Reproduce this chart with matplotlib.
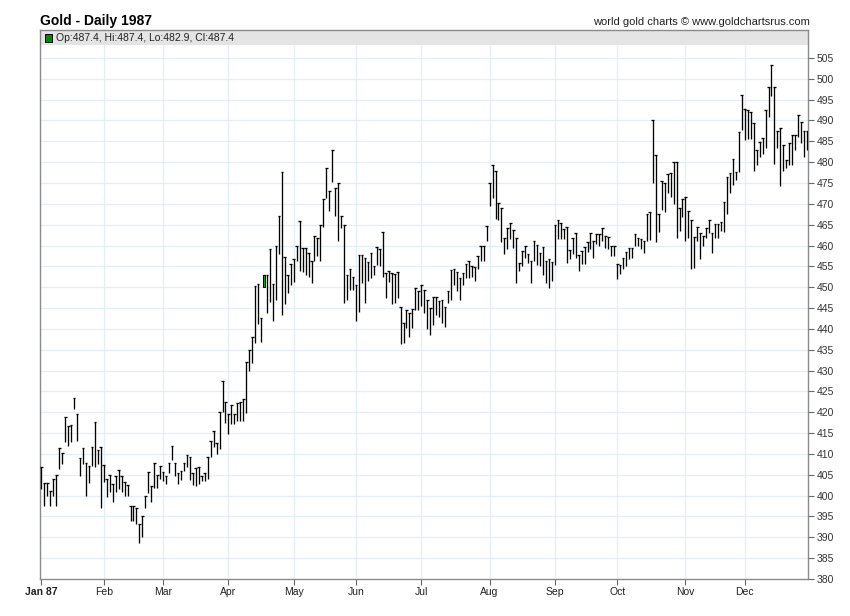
import numpy as np
import matplotlib.pyplot as plt

# daily (low, high), one list per month
jan = [(401.6, 406.8), (397.6, 403.0), (399.8, 403.0), (397.6, 401.2), (399.8, 404.0), (397.6, 405.0),
       (406.3, 411.4), (407.6, 410.2), (412.8, 418.8), (412.0, 416.6), (412.8, 417.0), (420.7, 423.4),
       (413.0, 419.6), (404.6, 409.0), (407.6, 411.4), (399.8, 407.8), (403.0, 407.2), (407.1, 411.6),
       (406.8, 417.6), (407.6, 411.0), (397.0, 411.6)]
feb = [(403.2, 407.4), (399.6, 404.0), (400.8, 405.0), (398.5, 402.8), (400.8, 404.6), (401.6, 406.2),
       (400.8, 404.6), (400.0, 403.2), (399.8, 402.6), (393.8, 397.4), (394.0, 397.6), (393.2, 397.0),
       (388.6, 393.3), (390.0, 395.2), (397.0, 399.8), (400.6, 405.6), (398.4, 402.4), (401.8, 407.8),
       (401.8, 405.0), (404.0, 407.1)]
mar = [(403.6, 405.6), (402.8, 404.6), (405.4, 407.8), (408.6, 411.8), (404.6, 407.8), (402.8, 405.4),
       (403.8, 405.8), (405.8, 407.8), (406.8, 409.8), (403.8, 409.2), (402.6, 405.4), (402.3, 406.6),
       (402.8, 406.8), (403.4, 404.8), (403.6, 405.4), (404.0, 409.2), (409.2, 413.0), (411.6, 415.4),
       (410.0, 412.6), (411.2, 420.0), (420.0, 427.6), (417.4, 422.4)]
apr = [(414.8, 419.7), (417.2, 421.7), (417.2, 419.6), (418.0, 422.2), (418.0, 422.4), (417.8, 423.2),
       (419.8, 432.0), (429.8, 435.0), (431.7, 438.1), (436.7, 450.4), (441.1, 450.8), (436.8, 442.6),
       (450.1, 453.0), (443.8, 452.9), (446.5, 459.2), (442.0, 450.7), (446.9, 459.8), (458.0, 467.0),
       (443.4, 477.7), (445.9, 457.2), (448.5, 452.9), (450.5, 455.6)]
may = [(451.3, 456.8), (456.4, 460.0), (453.8, 465.8), (453.7, 459.4), (453.0, 459.4), (452.5, 458.2),
       (451.0, 456.3), (456.2, 462.2), (457.5, 461.7), (456.4, 465.0), (464.4, 471.1), (471.3, 478.7),
       (468.2, 473.1), (475.2, 482.9), (467.0, 473.9), (461.0, 474.9), (464.1, 467.0), (446.1, 465.0),
       (446.9, 453.0), (449.3, 454.4), (449.3, 452.5)]
jun = [(441.8, 450.6), (444.1, 457.7), (451.0, 457.7), (446.3, 457.1), (451.4, 456.0), (452.2, 458.2),
       (453.0, 455.1), (455.4, 459.6), (455.2, 459.2), (452.5, 463.2), (447.5, 453.4), (451.3, 453.8),
       (446.0, 453.3), (446.1, 453.1), (447.3, 453.7), (436.4, 445.3), (436.6, 441.4), (440.2, 444.6),
       (438.0, 443.8), (440.2, 444.8), (444.6, 449.8), (444.6, 449.0)]
jul = [(445.6, 450.6), (443.9, 449.3), (440.0, 446.9), (438.5, 444.9), (441.0, 447.7), (443.3, 447.7),
       (442.9, 446.7), (441.5, 446.9), (440.5, 445.3), (446.1, 449.0), (446.9, 454.2), (450.6, 454.3),
       (449.0, 453.6), (446.9, 452.2), (450.5, 453.4), (452.1, 455.5), (452.2, 456.2), (452.5, 455.0),
       (451.4, 454.8), (454.4, 457.6), (456.2, 460.0), (456.2, 460.0), (461.2, 464.8)]
aug = [(469.5, 474.9), (471.5, 479.2), (466.3, 477.9), (466.2, 470.3), (460.9, 468.9), (457.9, 461.7),
       (459.2, 464.1), (461.6, 465.3), (459.4, 463.7), (451.1, 461.8), (453.8, 455.9), (455.0, 458.6),
       (457.0, 459.8), (455.9, 458.0), (451.0, 456.4), (456.2, 461.0), (455.4, 460.2), (455.1, 458.3),
       (453.0, 459.6), (451.1, 456.4), (449.8, 456.7), (451.4, 456.0)]
sep = [(455.4, 465.0), (461.6, 466.1), (461.6, 465.3), (461.6, 464.0), (455.9, 464.4), (456.7, 459.0),
       (458.0, 461.7), (457.0, 462.9), (453.8, 457.8), (455.6, 458.6), (455.6, 459.6), (458.4, 460.8),
       (459.2, 462.9), (457.0, 461.2), (460.4, 462.8), (459.9, 462.8), (461.1, 464.2), (459.5, 462.3),
       (459.1, 462.1), (457.5, 459.9), (457.5, 459.9)]
oct = [(451.9, 455.6), (453.1, 455.3), (454.3, 457.1), (455.2, 458.5), (456.7, 459.5), (457.1, 459.3),
       (459.9, 462.7), (460.0, 461.9), (459.1, 461.5), (458.1, 461.2), (461.1, 467.5), (461.3, 468.1),
       (475.0, 490.0), (460.8, 481.6), (463.2, 467.5), (468.4, 475.4), (468.0, 474.9), (472.6, 477.2),
       (471.6, 477.4), (469.9, 480.0), (461.9, 480.0), (463.5, 469.1), (466.9, 471.1)]
nov = [(461.1, 471.7), (461.9, 468.3), (454.4, 466.1), (454.7, 462.1), (461.1, 464.4), (456.7, 463.0),
       (459.9, 462.3), (461.9, 464.2), (463.1, 466.1), (458.3, 462.9), (461.9, 465.1), (461.9, 465.1),
       (463.5, 465.6), (463.2, 470.5), (467.5, 476.4), (472.5, 477.4), (474.4, 480.8), (475.7, 477.6),
       (477.6, 487.2), (487.8, 496.2)]
dec = [(485.4, 492.8), (485.6, 492.5), (485.6, 492.1), (477.8, 489.4), (479.4, 482.8), (481.3, 484.8),
       (482.0, 485.8), (483.3, 492.6), (490.8, 498.0), (495.8, 503.2), (479.6, 498.0), (483.4, 487.4),
       (474.2, 488.1), (477.8, 484.2), (478.6, 480.6), (479.4, 484.5), (479.4, 486.5), (483.0, 486.5),
       (486.1, 491.3), (484.5, 489.7), (481.3, 487.4), (483.0, 487.4)]

months = [jan, feb, mar, apr, may, jun, jul, aug, sep, oct, nov, dec]
month_labels = ['Jan 87', 'Feb', 'Mar', 'Apr', 'May', 'Jun', 'Jul', 'Aug', 'Sep', 'Oct', 'Nov', 'Dec']
# the one candle drawn in green (April), open/close
green_day = 12
green_open, green_close = 450.1, 453.0
legend_text = 'Op:487.4, Hi:487.4, Lo:482.9, Cl:487.4'

lows = np.array([d[0] for m in months for d in m])
highs = np.array([d[1] for m in months for d in m])
x = np.arange(len(lows))
starts = np.cumsum([0] + [len(m) for m in months[:-1]])

plt.rcParams['font.family'] = ['Liberation Sans', 'DejaVu Sans']
fig = plt.figure(figsize=(8.5, 6.16), dpi=100)
ax = fig.add_axes([40 / 850, 1 - 579 / 616, 768 / 850, 549 / 616])

ymin, ymax = 380, 511.7
ax.set_ylim(ymin, ymax)
ax.set_xlim(-0.5, len(x) - 0.7)

# grid
for yv in range(385, 510, 5):
    ax.axhline(yv, color='#e3eef9', lw=0.9, zorder=0)
for s in starts[1:]:
    ax.axvline(s, color='#e3eef9', lw=0.9, zorder=0)

# grey header band
ax.axhspan(508.1, ymax, color='#e4e4e4', zorder=1, lw=0)

# bars
ax.vlines(x, lows, highs, color='black', lw=0.95, zorder=3)
ax.hlines(highs, x - 0.45, x + 0.45, color='black', lw=0.95, zorder=3)
g = starts[3] + green_day
ax.bar(x[g], green_close - green_open, bottom=green_open, width=0.75,
       color='#1a9a1a', edgecolor='black', lw=0.7, zorder=4)

ax.yaxis.tick_right()
ax.set_yticks(range(380, 510, 5))
ax.tick_params(axis='y', labelsize=7.5, length=4, color='#666666', pad=2, labelcolor='#333333')
ax.set_xticks(starts)
ax.set_xticklabels(month_labels)
ax.tick_params(axis='x', labelsize=7.5, length=4, color='#666666', pad=2, labelcolor='#222222')
ax.get_xticklabels()[0].set_fontweight('bold')
for sp in ax.spines.values():
    sp.set_color('#8a8a8a')
    sp.set_linewidth(1.0)

fig.text(40 / 850, 1 - 21 / 616, 'Gold - Daily 1987', fontsize=10, fontweight='bold', va='center', ha='left')
fig.text(810 / 850, 1 - 22 / 616, 'world gold charts \u00a9 www.goldchartsrus.com', fontsize=8,
         va='center', ha='right', color='#222222')

# legend inside the band
fig.patches.append(plt.Rectangle((45 / 850, 1 - 42 / 616), 7 / 850, 8 / 616, transform=fig.transFigure,
                                 facecolor='#008a00', edgecolor='black', lw=0.7))
fig.text(56 / 850, 1 - 38 / 616, legend_text, fontsize=7.5, va='center', ha='left', color='#222222')

fig.savefig('out.png', dpi=100)
